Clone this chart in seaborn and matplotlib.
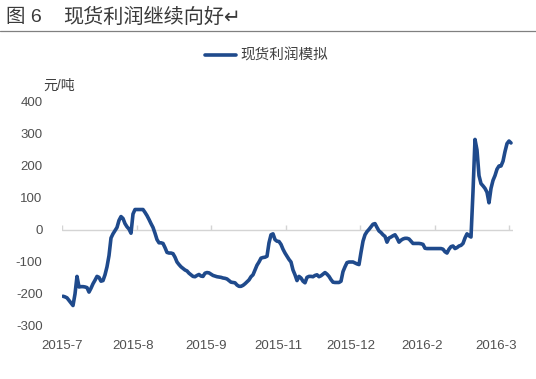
import matplotlib
matplotlib.use("Agg")
import matplotlib.pyplot as plt
import seaborn as sns
import numpy as np
import pandas as pd

sns.set_theme(style="white")
plt.rcParams['font.family'] = ['Liberation Sans', 'Noto Sans CJK SC', 'DejaVu Sans']

title_num = "图 6"
title_text = "现货利润继续向好↵"
series_name = "现货利润模拟"
y_unit = "元/吨"
x_labels = ["2015-7", "2015-8", "2015-9", "2015-11", "2015-12", "2016-2", "2016-3"]
x_label_pos = [-0.5, 35, 71.5, 107.5, 144, 179.5, 216.5]
x_tick_pos = [-0.5, 36.75, 74, 111.25, 148.5, 185.75, 223]
y_ticks = [-300, -200, -100, 0, 100, 200, 300, 400]

profit = [
    -207, -209, -212, -220, -228, -236, -200, -145, -178, -177,
    -177, -178, -180, -194, -182, -168, -157, -145, -148, -160,
    -158, -140, -115, -80, -25, -12, -2, 8, 30, 42,
    36, 20, 10, 3, -10, 50, 64, 64, 64, 64,
    64, 55, 45, 33, 20, 8, -10, -30, -40, -40,
    -42, -55, -70, -72, -72, -74, -85, -100, -108, -115,
    -120, -125, -128, -135, -140, -145, -146, -142, -139, -144,
    -145, -135, -133, -134, -138, -142, -144, -146, -147, -148,
    -150, -151, -153, -158, -163, -164, -165, -172, -176, -176,
    -173, -168, -162, -156, -146, -140, -125, -110, -100, -88,
    -86, -85, -82, -40, -15, -12, -30, -35, -36, -45,
    -60, -72, -82, -92, -100, -125, -140, -158, -145, -150,
    -160, -165, -148, -145, -145, -146, -142, -140, -146, -143,
    -138, -133, -138, -145, -155, -163, -164, -164, -164, -160,
    -130, -115, -102, -100, -100, -100, -103, -106, -108, -70,
    -35, -15, -5, 2, 10, 18, 20, 8, -3, -8,
    -15, -20, -38, -25, -22, -18, -15, -25, -38, -32,
    -28, -26, -26, -28, -35, -42, -42, -42, -42, -43,
    -45, -57, -58, -58, -58, -58, -58, -58, -58, -58,
    -60, -68, -72, -60, -52, -50, -58, -55, -50, -48,
    -42, -25, -12, -18, -22, 120, 283, 250, 170, 145,
    138, 130, 118, 85, 130, 155, 170, 190, 200, 200,
    215, 245, 270, 278, 272,
]

df = pd.DataFrame({"idx": np.arange(len(profit)), "value": profit})

fig = plt.figure(figsize=(5.36, 3.79), dpi=100)
ax = fig.add_axes([62/536, 1 - 326/379, (513 - 62)/536, (326 - 102)/379])

ax.axhline(0, color="#D4D4D4", lw=1.0, zorder=1)
ax.vlines(x_tick_pos, 0, 16, color="#D4D4D4", lw=1.0, zorder=1)

sns.lineplot(data=df, x="idx", y="value", ax=ax, color="#1F4A8C", lw=2.6,
             label=series_name, zorder=3)

ax.set_xlim(-0.5, 225)
ax.set_ylim(-300, 400)
ax.set_yticks(y_ticks)
ax.set_yticklabels([str(v) for v in y_ticks], fontsize=9.5, color="#505050")
ax.set_xticks(x_label_pos)
ax.set_xticklabels(x_labels, fontsize=9.5, color="#505050")
ax.tick_params(axis="y", length=0, pad=14)
ax.tick_params(axis="x", length=0, pad=10)
ax.set_xlabel("")
ax.set_ylabel("")
for s in ax.spines.values():
    s.set_visible(False)
ax.grid(False)

leg = ax.legend(loc="center", bbox_to_anchor=(0.497, 1 - 56/379),
                bbox_transform=fig.transFigure, frameon=False, fontsize=10.5,
                handlelength=2.1, handletextpad=0.3)
for t in leg.get_texts():
    t.set_color("#404040")

fig.text(6/536, 1 - 17/379, title_num, fontsize=14, color="#3A3A3A", va="center", ha="left")
fig.text(63/536, 1 - 17/379, title_text, fontsize=14.5, color="#3A3A3A", va="center", ha="left")
fig.add_artist(plt.Line2D([0, 1], [1 - 31/379, 1 - 31/379], color="#808080", lw=0.9,
                          transform=fig.transFigure))
fig.text(43/536, 1 - 86/379, y_unit, fontsize=10, color="#404040", va="center", ha="left")

fig.savefig("out.png", dpi=100, facecolor="white")
